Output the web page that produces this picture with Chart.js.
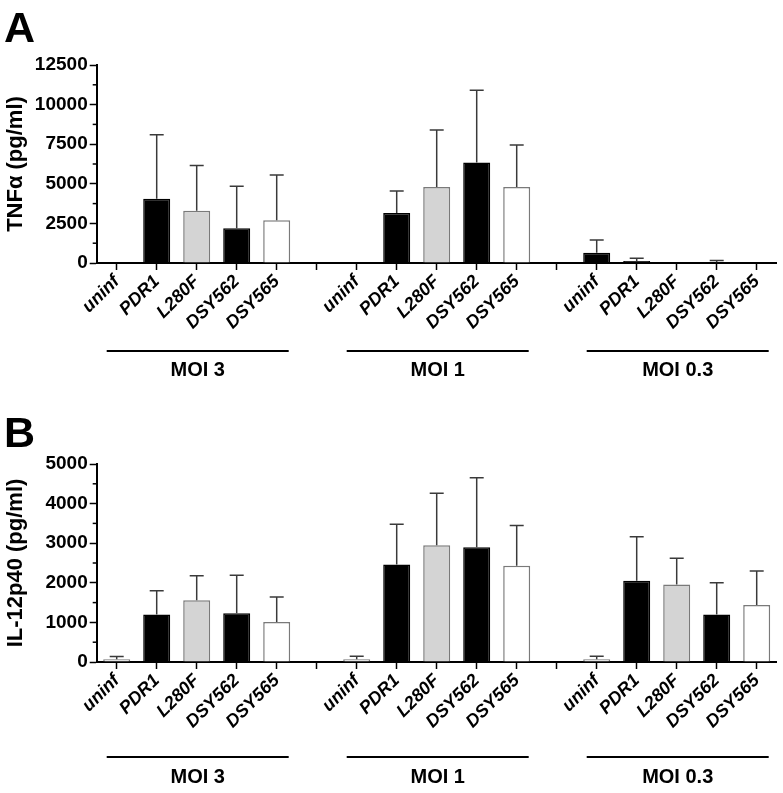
<!DOCTYPE html>
<html>
<head>
<meta charset="utf-8">
<script src="https://cdn.jsdelivr.net/npm/chart.js@4.4.1/dist/chart.umd.min.js"></script>
<style>
  body { margin: 0; background: #fff; width: 783px; height: 793px; position: relative; overflow: hidden; font-family: "Liberation Sans", Arial, sans-serif; }
  .panel { position: absolute; left: 0; }
  .letter { position: absolute; left: 4px; font-weight: bold; font-size: 43px; line-height: 1; color: #000; }
</style>
</head>
<body>
<div class="panel" style="top:0"><canvas id="chart-tnf" width="783" height="400"></canvas></div>
<div class="panel" style="top:400px"><canvas id="chart-il12" width="783" height="393"></canvas></div>
<div class="letter" style="top:6px">A</div>
<div class="letter" style="top:411px">B</div>
<script>
// categories: three MOI groups of five strains, blank slot between groups
const categories = ['uninf', 'PDR1', 'L280F', 'DSY562', 'DSY565', '',
                    'uninf', 'PDR1', 'L280F', 'DSY562', 'DSY565', '',
                    'uninf', 'PDR1', 'L280F', 'DSY562', 'DSY565'];
const groupLabels = ['MOI 3', 'MOI 1', 'MOI 0.3'];
const groupStarts = [0, 6, 12];

// TNF-alpha (pg/ml), mean and upper error
const tnfMean = [0, 4050, 3300, 2200, 2700, null, 0, 3150, 4800, 6350, 4800, null, 650, 120, 0, 50, 0];
const tnfErr  = [0, 4050, 2850, 2650, 2850, null, 0, 1400, 3600, 4550, 2650, null, 800, 180, 0, 100, 0];
const tnfTicks = { max: 12500, step: 2500 };

// IL-12p40 (pg/ml), mean and upper error
const il12Mean = [70, 1200, 1560, 1230, 1010, null, 70, 2460, 2950, 2900, 2430, null, 70, 2050, 1960, 1200, 1440];
const il12Err  = [70, 600, 620, 960, 630, null, 75, 1020, 1310, 1750, 1020, null, 75, 1110, 660, 800, 860];
const il12Ticks = { max: 5000, step: 1000 };

// bar styles per strain slot
const strainFill   = { uninf: '#e6e6e6', PDR1: '#000000', L280F: '#d4d4d4', DSY562: '#000000', DSY565: '#ffffff' };
const strainBorder = { uninf: '#7a7a7a', PDR1: '#000000', L280F: '#7a7a7a', DSY562: '#000000', DSY565: '#7a7a7a' };

const FONT = '"Liberation Sans", Arial, sans-serif';

const errorBars = {
  id: 'errorBars',
  afterDatasetsDraw(chart) {
    const { ctx, scales: { y } } = chart;
    const ds = chart.data.datasets[0];
    const meta = chart.getDatasetMeta(0);
    ctx.save();
    ctx.strokeStyle = '#3a3a3a';
    ctx.lineWidth = 1.5;
    meta.data.forEach((bar, i) => {
      const v = ds.data[i];
      const e = ds.errors[i];
      if (v == null || !e) return;
      const top = y.getPixelForValue(v + e);
      ctx.beginPath();
      ctx.moveTo(bar.x, bar.y);
      ctx.lineTo(bar.x, top);
      ctx.moveTo(bar.x - 7, top);
      ctx.lineTo(bar.x + 7, top);
      ctx.stroke();
    });
    ctx.restore();
  }
};

const minorTicks = {
  id: 'minorTicks',
  afterDraw(chart) {
    const { ctx, scales: { y } } = chart;
    const ticks = y.ticks;
    ctx.save();
    ctx.strokeStyle = '#000';
    ctx.lineWidth = 1.5;
    for (let i = 0; i < ticks.length - 1; i++) {
      const py = y.getPixelForValue((ticks[i].value + ticks[i + 1].value) / 2);
      ctx.beginPath();
      ctx.moveTo(y.right - 4, py);
      ctx.lineTo(y.right, py);
      ctx.stroke();
    }
    ctx.restore();
  }
};

const groupAxis = {
  id: 'groupAxis',
  afterDraw(chart, args, opts) {
    const { ctx, chartArea, scales: { x } } = chart;
    ctx.save();
    ctx.strokeStyle = '#000';
    ctx.lineWidth = 2;
    ctx.fillStyle = '#000';
    ctx.font = 'bold 20px ' + FONT;
    ctx.textAlign = 'center';
    ctx.textBaseline = 'middle';
    groupLabels.forEach((label, g) => {
      const x0 = x.getPixelForValue(groupStarts[g]);
      const x1 = x.getPixelForValue(groupStarts[g] + 4);
      const mid = (x0 + x1) / 2;
      const lineY = chartArea.bottom + opts.lineOffset;
      ctx.beginPath();
      ctx.moveTo(x0 - 10, lineY);
      ctx.lineTo(x1 + 12, lineY);
      ctx.stroke();
      ctx.fillText(label, mid + 1, chartArea.bottom + opts.textOffset);
    });
    ctx.restore();
  }
};

const makeChart = (canvasId, means, errs, tickInfo, title, padTop, xHeight, offsets, fillOverride) => {
  const fills = categories.map((c, i) => (fillOverride && fillOverride[i]) || strainFill[c] || '#fff');
  const borders = categories.map((c, i) => (fillOverride && fillOverride[i]) || strainBorder[c] || '#000');
  return new Chart(document.getElementById(canvasId), {
    type: 'bar',
    data: {
      labels: categories,
      datasets: [{
        data: means,
        errors: errs,
        backgroundColor: fills,
        borderColor: borders,
        borderWidth: 1.5,
        borderSkipped: 'start',
        categoryPercentage: 1,
        barPercentage: 0.675
      }]
    },
    options: {
      responsive: false,
      animation: false,
      events: [],
      layout: { padding: { top: padTop, right: 6.3, bottom: 0, left: 0 } },
      plugins: {
        legend: { display: false },
        tooltip: { enabled: false },
        groupAxis: offsets
      },
      scales: {
        x: {
          offset: true,
          afterFit: scale => { scale.height = xHeight; },
          border: { color: '#000', width: 2 },
          grid: { drawOnChartArea: false, offset: false, tickLength: 7, tickColor: '#000', tickWidth: 1.5 },
          ticks: {
            autoSkip: false,
            minRotation: 45,
            maxRotation: 45,
            padding: 1,
            color: '#000',
            font: { family: FONT, size: 18, weight: 'bold', style: 'italic' }
          }
        },
        y: {
          min: 0,
          max: tickInfo.max,
          afterFit: scale => { scale.width = 96.7; },
          border: { color: '#000', width: 2 },
          grid: { drawOnChartArea: false, tickLength: 7, tickColor: '#000', tickWidth: 1.5 },
          ticks: {
            stepSize: tickInfo.step,
            padding: 2,
            color: '#000',
            callback: v => String(v),
            font: { family: FONT, size: 19, weight: 'bold' }
          },
          title: {
            display: true,
            text: title,
            color: '#000',
            padding: { top: 3, bottom: 0 },
            font: { family: FONT, size: 22, weight: 'bold' }
          }
        }
      }
    },
    plugins: [errorBars, minorTicks, groupAxis]
  });
};

// the MOI 0.3 uninfected bar in panel A is drawn black
const tnfFillOverride = { 12: '#000000' };

makeChart('chart-tnf', tnfMean, tnfErr, tnfTicks, 'TNFα (pg/ml)', 65, 137, { lineOffset: 88, textOffset: 107 }, tnfFillOverride);
makeChart('chart-il12', il12Mean, il12Err, il12Ticks, 'IL-12p40 (pg/ml)', 64, 131, { lineOffset: 95, textOffset: 115 }, null);
</script>
</body>
</html>
